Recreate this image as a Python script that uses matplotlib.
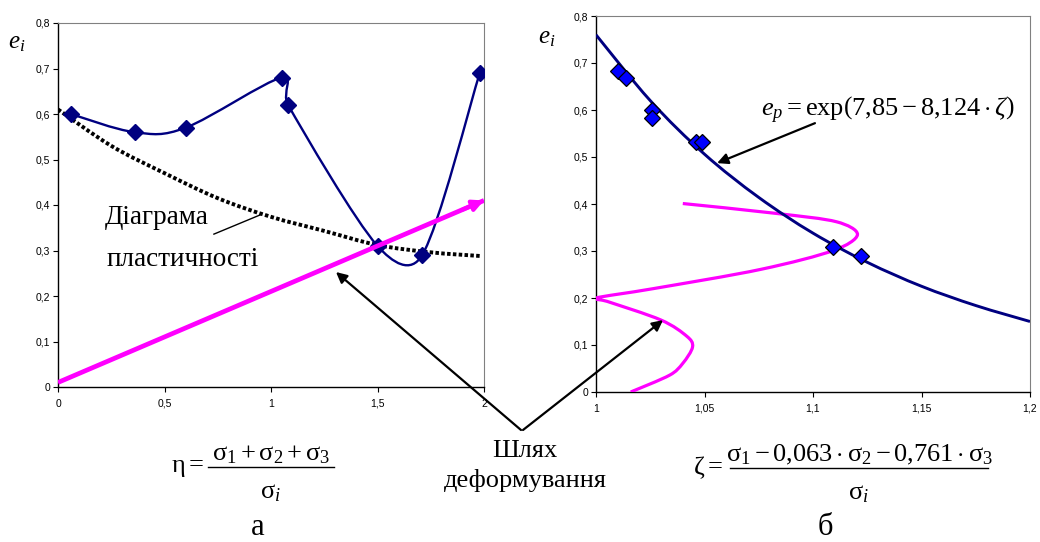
import numpy as np
import matplotlib
matplotlib.use("Agg")
import matplotlib.pyplot as plt
from matplotlib.path import Path
from matplotlib.patches import PathPatch
from matplotlib.lines import Line2D

plt.rcParams["font.family"] = ["Liberation Sans", "DejaVu Sans"]
plt.rcParams["mathtext.fontset"] = "custom"
plt.rcParams["mathtext.rm"] = "Liberation Serif"
plt.rcParams["mathtext.it"] = "Liberation Serif:italic"
plt.rcParams["mathtext.bf"] = "Liberation Serif:bold"

# --- data, panel a ---
eta_pts = [0.06, 0.36, 0.60, 1.05, 1.08, 1.50, 1.71, 1.98]
ei_pts = [0.60, 0.56, 0.57, 0.68, 0.62, 0.31, 0.29, 0.69]
eta_diag = [0.0, 0.25, 0.5, 0.75, 1.0, 1.25, 1.5, 1.75, 1.98]
ep_diag = [0.61, 0.530, 0.470, 0.415, 0.374, 0.343, 0.312, 0.296, 0.288]
eta_path = [0.0, 2.0]
ei_path = [0.01, 0.41]
a_xticks = [0, 0.5, 1, 1.5, 2]
a_xlabels = ["0", "0,5", "1", "1,5", "2"]

# --- data, panel б ---
zeta_pts = [1.010, 1.014, 1.026, 1.026, 1.046, 1.049, 1.109, 1.122]
ei_pts_b = [0.682, 0.669, 0.600, 0.584, 0.532, 0.532, 0.309, 0.290]
zeta_fit = [1.0, 1.025, 1.05, 1.075, 1.1, 1.125, 1.15, 1.175, 1.2]
ep_fit = [0.760, 0.620, 0.506, 0.414, 0.338, 0.276, 0.225, 0.184, 0.150]
zeta_path = [1.040, 1.083, 1.111, 1.1205, 1.110, 1.076, 1.0265, 1.000,
             1.005, 1.030, 1.042, 1.0445, 1.040, 1.034, 1.016]
ei_path_b = [0.401, 0.380, 0.362, 0.335, 0.302, 0.261, 0.220, 0.200,
             0.193, 0.153, 0.118, 0.096, 0.061, 0.036, 0.0]
b_xticks = [1, 1.05, 1.1, 1.15, 1.2]
b_xlabels = ["1", "1,05", "1,1", "1,15", "1,2"]

y_ticks = [0, 0.1, 0.2, 0.3, 0.4, 0.5, 0.6, 0.7, 0.8]
y_labels = ["0", "0,1", "0,2", "0,3", "0,4", "0,5", "0,6", "0,7", "0,8"]

W, H = 1040, 542
NAVY = "#000080"
MAGENTA = "#ff00ff"
SERIF = "Liberation Serif"


def smooth_patch(ax, xs, ys, cap=0.45, **kw):
    """Catmull-Rom style smoothing (like Excel), handles capped by segment length"""
    to_disp = ax.transData
    p = to_disp.transform(np.column_stack([xs, ys]))
    n = len(p)
    tang = [(p[min(i + 1, n - 1)] - p[max(i - 1, 0)]) / 6 for i in range(n)]
    verts = [p[0]]
    codes = [Path.MOVETO]
    for i in range(n - 1):
        seg = np.hypot(*(p[i + 1] - p[i]))
        t0, t1 = tang[i], tang[i + 1]
        l0, l1 = np.hypot(*t0), np.hypot(*t1)
        if l0 > cap * seg:
            t0 = t0 * cap * seg / l0
        if l1 > cap * seg:
            t1 = t1 * cap * seg / l1
        verts += [p[i] + t0, p[i + 1] - t1, p[i + 1]]
        codes += [Path.CURVE4] * 3
    verts = to_disp.inverted().transform(np.array(verts))
    patch = PathPatch(Path(verts, codes), fill=False, **kw)
    ax.add_patch(patch)
    return patch


def style_axes(ax):
    for s in ["top", "right"]:
        ax.spines[s].set_color("#808080")
        ax.spines[s].set_linewidth(0.8)
    for s in ["left", "bottom"]:
        ax.spines[s].set_color("black")
        ax.spines[s].set_linewidth(1.0)
    ax.set_yticks(y_ticks, y_labels)
    ax.tick_params(direction="out", length=3.5, width=0.8, labelsize=7.5, pad=2)
    ax.tick_params(axis="x", pad=5)


def ftext(x, y, s, **kw):
    """text placed in top-left pixel coordinates"""
    kw.setdefault("ha", "center")
    kw.setdefault("va", "center")
    return fig.text(x / W, 1 - y / H, s, **kw)


def fraction(lhs, lhs_x, num, den, x0, x1, y, size=19):
    ftext(lhs_x, y, lhs, fontsize=size, ha="left")
    xc = (x0 + x1) / 2
    ftext(xc, y - 13, num, fontsize=size)
    ftext(xc, y + 25, den, fontsize=size)
    fig.add_artist(Line2D([x0 / W, x1 / W], [1 - y / H, 1 - y / H],
                          color="black", lw=1.0))


fig = plt.figure(figsize=(W / 100, H / 100), dpi=100)
ax_a = fig.add_axes([58 / W, 1 - 387 / H, 426 / W, 364 / H])
ax_b = fig.add_axes([596 / W, 1 - 392 / H, 434 / W, 376 / H])

# panel a
ax_a.set_xlim(0, 2)
ax_a.set_ylim(0, 0.8)
ax_a.set_xticks(a_xticks, a_xlabels)
style_axes(ax_a)
smooth_patch(ax_a, eta_diag, ep_diag, color="black", lw=2.8,
             linestyle=(0, (0.9, 0.6)), zorder=3)
smooth_patch(ax_a, eta_pts, ei_pts, cap=0.5, color=NAVY, lw=1.7, zorder=4)
ax_a.plot(eta_pts, ei_pts, ls="none", marker="D", ms=8, color=NAVY,
          mec=NAVY, zorder=5)
ax_a.plot(eta_path, ei_path, color=MAGENTA, lw=3.4, solid_capstyle="butt", zorder=6)
ax_a.annotate("", xy=(eta_path[-1], ei_path[-1]),
              xytext=(eta_path[-1] - 0.1, ei_path[-1] - 0.02),
              arrowprops=dict(arrowstyle="-|>", color=MAGENTA, lw=3,
                              mutation_scale=16, shrinkA=0, shrinkB=0),
              annotation_clip=False, zorder=7)

# panel б
ax_b.set_xlim(1, 1.2)
ax_b.set_ylim(0, 0.8)
ax_b.set_xticks(b_xticks, b_xlabels)
style_axes(ax_b)
smooth_patch(ax_b, zeta_path, ei_path_b, color=MAGENTA, lw=2.3, zorder=3)
smooth_patch(ax_b, zeta_fit, ep_fit, color=NAVY, lw=2.1, zorder=4)
ax_b.plot(zeta_pts, ei_pts_b, ls="none", marker="D", ms=8.5, color="#0000ff",
          mec="black", mew=0.9, zorder=5)

# labels
ftext(17, 42, r"$e_i$", fontsize=18)
ftext(547, 37, r"$e_i$", fontsize=18)
ftext(888, 110, r"$e_p = \mathrm{exp}\left(7{,}85 - 8{,}124\cdot\zeta\right)$",
      fontsize=19)

arrow_kw = dict(arrowstyle="-|>", color="black", lw=1.6, mutation_scale=16,
                shrinkA=0, shrinkB=0)
ax_b.annotate("", xy=(1.0558, 0.487), xytext=(1.1009, 0.572),
              arrowprops=arrow_kw, zorder=8)

# Діаграма пластичності
ftext(157, 217, "Діаграма", family=SERIF, fontsize=19.5)
ftext(183, 260, "пластичності", family=SERIF, fontsize=19.5)
ax_a.plot([0.732, 0.948], [0.336, 0.378], color="black", lw=1.0, zorder=8)

# Шлях деформування arrows
ax_a.annotate("", xy=(1.305, 0.2527), xytext=(521, H - 430),
              textcoords="figure pixels", arrowprops=arrow_kw,
              annotation_clip=False, zorder=8)
ax_b.annotate("", xy=(1.0309, 0.153), xytext=(523, H - 430),
              textcoords="figure pixels", arrowprops=arrow_kw,
              annotation_clip=False, zorder=8)
ftext(525, 451, "Шлях", family=SERIF, fontsize=19)
ftext(525, 481, "деформування", family=SERIF, fontsize=19)

# bottom formulas
fraction(r"$\mathrm{η} =$", 171,
         r"$\mathrm{σ}_1 + \mathrm{σ}_2 + \mathrm{σ}_3$", r"$\mathrm{σ}_i$",
         208, 334, 467)
fraction(r"$\mathrm{ζ} =$", 693,
         r"$\mathrm{σ}_1 - 0{,}063\cdot\mathrm{σ}_2 - 0{,}761\cdot\mathrm{σ}_3$",
         r"$\mathrm{σ}_i$", 730, 988, 468)
ftext(258, 535, "а", family=SERIF, fontsize=22, va="baseline")
ftext(825, 535, "б", family=SERIF, fontsize=22, va="baseline")

fig.savefig("out.png", dpi=100)
